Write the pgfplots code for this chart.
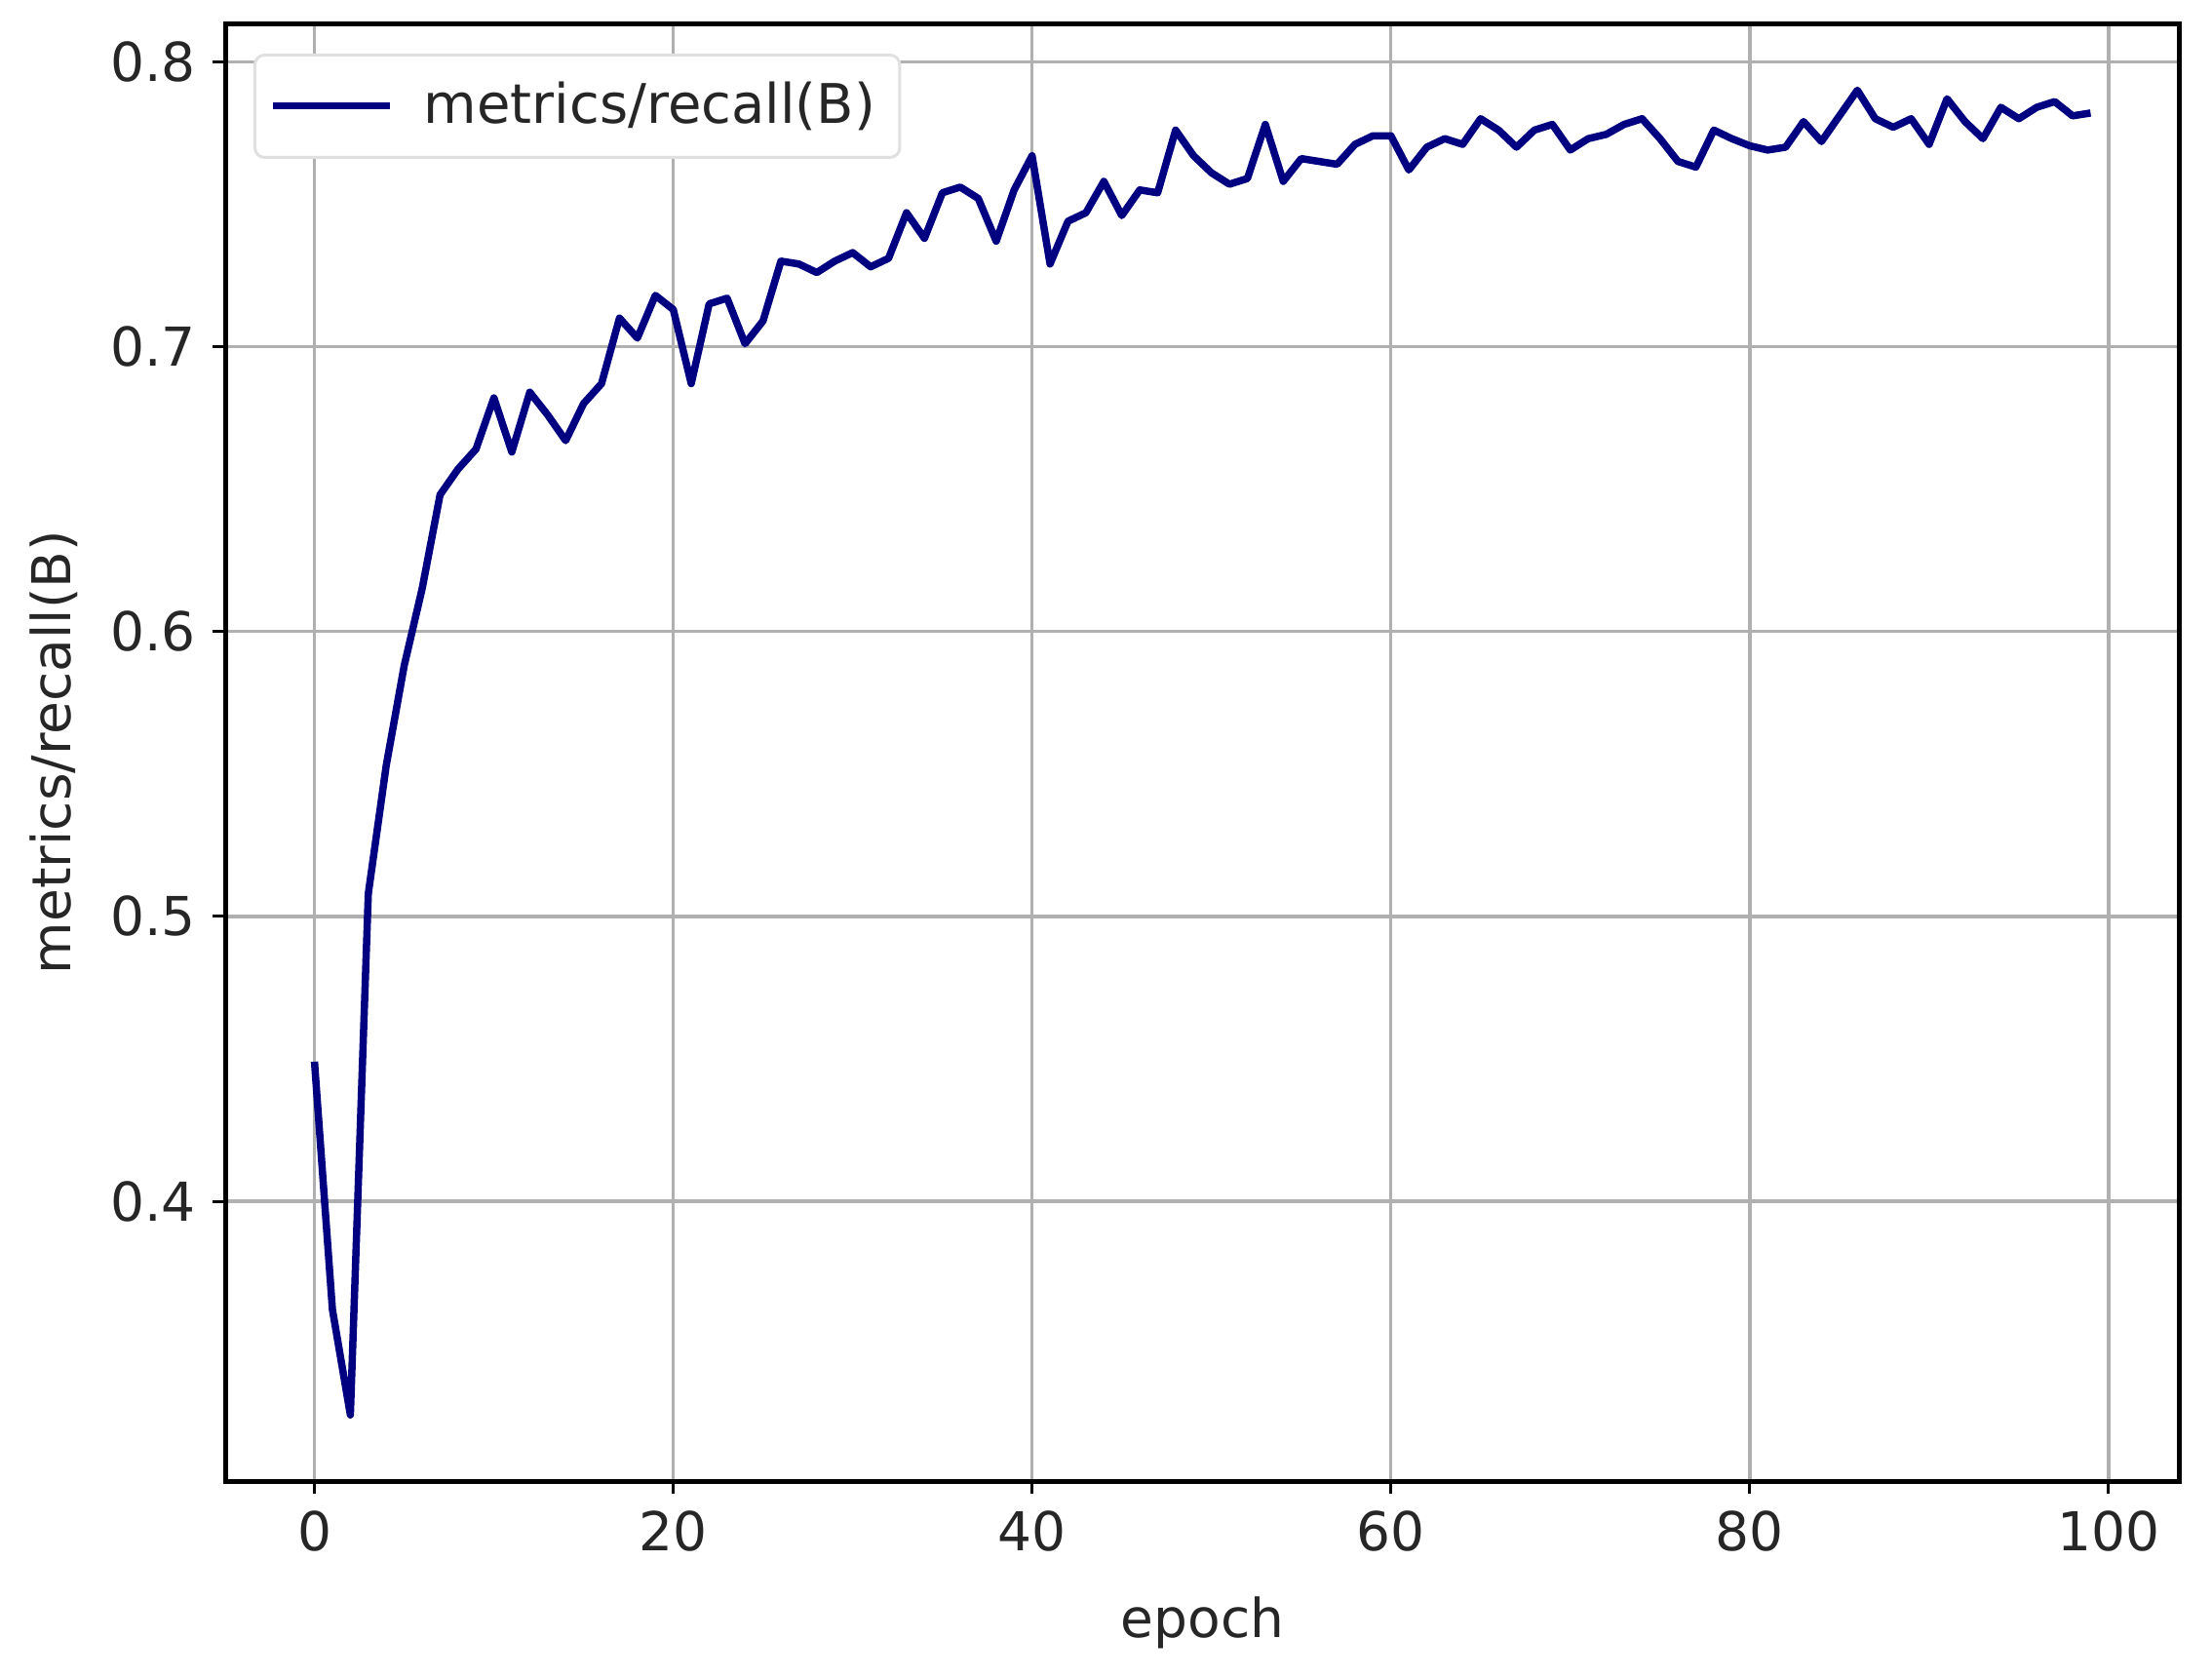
\documentclass[border=0pt]{standalone}
\usepackage{pgfplots}
\pgfplotsset{compat=1.18}
\usepackage{fontspec}
\setmainfont{DejaVu Sans}
\definecolor{navyline}{HTML}{000080}
\definecolor{gridgray}{HTML}{B0B0B0}
\pgfplotstableread{
x y
0 0.449
1 0.362
2 0.325
3 0.508
4 0.553
5 0.588
6 0.615
7 0.648
8 0.657
9 0.664
10 0.682
11 0.663
12 0.684
13 0.676
14 0.667
15 0.680
16 0.687
17 0.710
18 0.703
19 0.718
20 0.713
21 0.687
22 0.715
23 0.717
24 0.701
25 0.709
26 0.730
27 0.729
28 0.726
29 0.730
30 0.733
31 0.728
32 0.731
33 0.747
34 0.738
35 0.754
36 0.756
37 0.752
38 0.737
39 0.755
40 0.767
41 0.729
42 0.744
43 0.747
44 0.758
45 0.746
46 0.755
47 0.754
48 0.776
49 0.767
50 0.761
51 0.757
52 0.759
53 0.778
54 0.758
55 0.766
56 0.765
57 0.764
58 0.771
59 0.774
60 0.774
61 0.762
62 0.770
63 0.773
64 0.771
65 0.780
66 0.776
67 0.770
68 0.776
69 0.778
70 0.769
71 0.773
72 0.7745
73 0.778
74 0.780
75 0.773
76 0.765
77 0.763
78 0.776
79 0.773
80 0.7705
81 0.769
82 0.770
83 0.779
84 0.772
85 0.781
86 0.790
87 0.780
88 0.777
89 0.780
90 0.771
91 0.787
92 0.779
93 0.773
94 0.784
95 0.780
96 0.784
97 0.786
98 0.781
99 0.782
}\recall
\begin{document}
\begin{tikzpicture}
\useasboundingbox (-46.3pt,-40.4pt) rectangle (407.5pt,303.8pt);
\begin{axis}[
  at={(0pt,0pt)}, anchor=south west,
  scale only axis,
  width=400.8pt, height=298.9pt,
  xmin=-4.95, xmax=103.95,
  ymin=0.3018, ymax=0.8133,
  xtick={0,20,40,60,80,100},
  ytick={0.4,0.5,0.6,0.7,0.8},
  yticklabel style={/pgf/number format/fixed,/pgf/number format/precision=1,/pgf/number format/fixed zerofill},
  /pgf/number format/assume math mode=true,
  tick label style={font=\fontsize{11}{13}\selectfont, color=black!85},
  label style={font=\fontsize{11}{13}\selectfont, color=black!85},
  xlabel={epoch},
  ylabel={metrics/recall(B)},
  xlabel style={at={(axis description cs:0.5,0)}, anchor=center, yshift=-29pt},
  ylabel style={at={(axis description cs:0,0.5)}, anchor=center, yshift=35.3pt},
  grid=major,
  major grid style={gridgray, line width=0.7pt},
  axis line style={black, line width=1pt},
  tick align=outside,
  major tick length=2.6pt,
  tick style={black, line width=0.6pt},
  xtick pos=bottom, ytick pos=left,
  legend style={at={(0.0142,0.9796)}, anchor=north west,
    draw=black!12, rounded corners=2pt, line width=0.6pt,
    font=\fontsize{11.2}{13}\selectfont, text=black!85,
    inner xsep=3pt, inner ysep=3.5pt},
  legend cell align=left,
  legend image code/.code={\draw[#1, line width=1.4pt] (0pt,0pt) -- (24pt,0pt);\path[draw=none] (24pt,0pt) -- (29pt,0pt);},
]
\addplot[navyline, line width=1.5pt, line join=round] table[x=x,y=y] {\recall};
\addlegendentry{metrics/recall(B)}
\end{axis}
\end{tikzpicture}
\end{document}
